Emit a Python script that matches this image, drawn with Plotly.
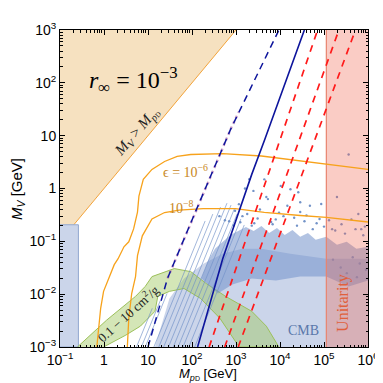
import plotly.graph_objects as go

# ---------------- data ----------------
x_tick_vals = [1e-1, 1, 10, 1e2, 1e3, 1e4, 1e5, 1e6]
x_tick_text = ["10<sup>−1</sup>", "1", "10", "10<sup>2</sup>", "10<sup>3</sup>",
               "10<sup>4</sup>", "10<sup>5</sup>", "10<sup>6</sup>"]
y_tick_vals = [1e-3, 1e-2, 1e-1, 1, 10, 1e2, 1e3]
y_tick_text = ["10<sup>−3</sup>", "10<sup>−2</sup>", "10<sup>−1</sup>", "1", "10",
               "10<sup>2</sup>", "10<sup>3</sup>"]

# M_V > M_pD triangle
tri_x = [0.1, 1000, 0.1]
tri_y = [0.1, 1000, 1000]
diag_x = [0.1, 1000]
diag_y = [0.1, 1000]

# CMB left block
cmb_left_x = [0.1, 0.262, 0.262, 0.1]
cmb_left_y = [1e-3, 1e-3, 0.206, 0.206]

# CMB main region
cmb_x = [14.4, 30.7, 65.8, 181, 499, 1374, 3780, 17300, 113000, 1e6, 1e6]
cmb_y = [1e-3, 0.0083, 0.0198, 0.0378, 0.0582, 0.0723, 0.0723, 0.0582, 0.0469, 0.0469, 1e-3]

# dense scan-point cloud outline
cloud_x = [164, 233, 333, 499, 748, 1122, 1683, 2524, 3785, 5690, 8530, 12790,
           19190, 28770, 43150, 64700, 113000, 197000, 328000, 544000, 1e6,
           1e6, 363000, 113000, 28770, 8110, 2280, 828, 387]
cloud_y = [0.0198, 0.0431, 0.0723, 0.098, 0.1325, 0.157, 0.187, 0.157, 0.195,
           0.1445, 0.179, 0.1325, 0.164, 0.1215, 0.1445, 0.1067, 0.1215, 0.0859, 0.098,
           0.0723, 0.0788,
           0.0181, 0.0140, 0.0215, 0.0215, 0.0181, 0.0198, 0.0152, 0.0103]

# sparse scan points
sparse_x = [2490, 4890, 17300, 26000, 47800, 86400, 197000, 363000, 603000, 702000,
            153000, 28800, 4400, 10400, 1165, 5320, 14700, 28800, 79200, 6300, 2280,
            24300, 55600, 2000, 1600, 1400, 3100, 8000, 12000, 36000, 68000, 130000,
            250000, 420000, 850000, 950, 1800, 3500, 9500, 21000, 40000, 100000,
            180000, 300000, 520000, 780000, 700, 2600, 6800, 420, 560, 880, 1250,
            160000, 240000, 450000, 650000, 900000, 330000, 560000]
sparse_y = [0.90, 0.69, 0.97, 0.85, 0.47, 0.51, 0.69, 4.4, 0.33, 0.17,
            0.17, 0.36, 1.49, 1.12, 0.506, 0.63, 0.47, 0.55, 0.265, 0.232, 0.198,
            0.198, 0.17, 1.5, 1.0, 0.30, 0.27, 0.26, 0.30, 0.24, 0.22, 0.25,
            0.21, 0.26, 0.19, 0.38, 0.33, 0.40, 0.35, 0.28, 0.31, 0.19,
            0.16, 0.14, 0.17, 0.13, 0.24, 0.22, 0.21, 0.30, 0.25, 0.20, 0.23,
            0.045, 0.032, 0.050, 0.038, 0.029, 0.025, 0.021]

# thin scan streaks (bottom mass, top mass, top M_V)
streak_x_bottom = [5.48, 7.06, 8.65, 13.6, 17.6, 22.7, 29.2, 37.6, 48.4, 62.5, 84.7, 115]
streak_x_top = [12.5, 19.1, 27.1, 199, 297, 445, 624, 771, 912, 1057, 1291, 1542]
streak_y_top = [0.0054, 0.0076, 0.0103, 0.243, 0.328, 0.445, 0.528, 0.485, 0.407, 0.328, 0.265, 0.204]

# self-interaction band 0.1 - 10 cm^2/g
green_upper_x = [0.249, 1.14, 5.21, 8.65, 12.3, 23.8, 39.5, 93.7, 211, 581, 2280, 4890, 9440]
green_upper_y = [1e-3, 0.00321, 0.00908, 0.0140, 0.0215, 0.0267, 0.0305, 0.0267, 0.0159,
                 0.00908, 0.00474, 0.00248, 1e-3]
green_lower_x = [0.978, 3.14, 6.71, 14.4, 16.7, 30.7, 65.8, 156, 429, 1180]
green_lower_y = [1e-3, 0.00168, 0.00248, 0.00474, 0.00908, 0.0113, 0.0128, 0.00832, 0.00351, 1e-3]

# epsilon contours
eps6_x = [0.686, 0.84, 0.978, 1.395, 1.71, 2.09, 2.84, 3.66, 4.71, 5.77, 6.22, 7.82, 12.3,
          23.8, 46, 93.7, 499, 3780, 17300, 113000, 1e6]
eps6_y = [1e-3, 0.0054, 0.0113, 0.0245, 0.0362, 0.0469, 0.0788, 0.098, 0.172, 0.358, 0.715,
          1.49, 2.30, 3.25, 4.04, 4.40, 4.59, 4.12, 3.54, 2.85, 2.30]
eps8_x = [3.39, 3.66, 4.26, 5.21, 5.77, 7.43, 12.3, 23.8, 50.9, 181, 964, 4400, 28800, 113000, 1e6]
eps8_y = [1e-3, 0.0035, 0.0103, 0.0215, 0.0535, 0.127, 0.265, 0.351, 0.391, 0.417, 0.417,
          0.353, 0.308, 0.285, 0.232]

# navy lines
navy_dash_x = [10, 27.7, 127, 748, 9450]
navy_dash_y = [1e-3, 0.0198, 0.407, 13.0, 1000]
purple_x = [27.7, 127, 748, 1150]
purple_y = [0.0198, 0.407, 13.0, 28]
navy_solid_x = [134, 499, 2280, 4480, 35800]
navy_solid_y = [1e-3, 0.0469, 1.85, 8.4, 1000]

# red dashed lines (bottom mass, top mass)
red_x_bottom = [245, 552, 1122]
red_x_top = [71600, 218000, 518000]

# unitarity region
unit_x = [1.13e5, 1e6, 1e6, 1.13e5]
unit_y = [1e-3, 1e-3, 1e3, 1e3]

# ---------------- figure ----------------
fig = go.Figure()

def poly(x, y, fill, line_color=None, width=0):
    fig.add_trace(go.Scatter(x=x, y=y, mode="lines", fill="toself", fillcolor=fill,
                             line=dict(color=line_color or "rgba(0,0,0,0)", width=width),
                             hoverinfo="skip", showlegend=False))

def line(x, y, color, width, dash="solid", opacity=1.0):
    fig.add_trace(go.Scatter(x=x, y=y, mode="lines", opacity=opacity,
                             line=dict(color=color, width=width, dash=dash),
                             hoverinfo="skip", showlegend=False))

poly(tri_x, tri_y, "#f6e1c0")
line(diag_x, diag_y, "#f2a33a", 1)
poly(cmb_x, cmb_y, "#cbd5ea")
poly(cmb_left_x, cmb_left_y, "#cbd5ea", "#93a8cf", 1)

green_x = green_upper_x + green_lower_x[::-1]
green_y = green_upper_y + green_lower_y[::-1]
poly(green_x, green_y, "rgba(160,200,95,0.45)", "#9cc05a", 1)

for xb, xt, yt in zip(streak_x_bottom, streak_x_top, streak_y_top):
    line([xb, xt], [1e-3, yt], "#6f8fc8", 0.8, opacity=0.8)

poly(cloud_x, cloud_y, "rgba(115,145,202,0.55)")
fig.add_trace(go.Scatter(x=sparse_x, y=sparse_y, mode="markers",
                         marker=dict(size=2.4, color="#7393c8"),
                         hoverinfo="skip", showlegend=False))

poly(unit_x, unit_y, "rgba(240,100,80,0.33)")
line([unit_x[0], unit_x[3]], [unit_y[0], unit_y[3]], "#e8846e", 1.2)

line(eps6_x, eps6_y, "#f7a21b", 1.3)
line(eps8_x, eps8_y, "#f7a21b", 1.3)

line(purple_x, purple_y, "rgba(185,105,170,0.55)", 2.5, dash="dot")
line(navy_dash_x, navy_dash_y, "#0d149c", 1.5, dash="7px,5px")
line(navy_solid_x, navy_solid_y, "#0d149c", 1.6)

for xb, xt in zip(red_x_bottom, red_x_top):
    line([xb, xt], [1e-3, 1e3], "#ff1a1a", 1.7, dash="7px,6px")

axis_common = dict(type="log", showgrid=False, zeroline=False, showline=True,
                   linecolor="black", linewidth=1, mirror="allticks",
                   ticks="inside", ticklen=5, tickcolor="black", tickwidth=1,
                   tickmode="array",
                   tickfont=dict(family="Liberation Sans", size=14, color="black"),
                   minor=dict(ticks="inside", ticklen=2.5, tickcolor="black",
                              dtick="D1", showgrid=False))

fig.update_xaxes(range=[-1, 6], tickvals=x_tick_vals, ticktext=x_tick_text, **axis_common)
fig.update_yaxes(range=[-3, 3], tickvals=y_tick_vals, ticktext=y_tick_text, **axis_common)

serif = "Liberation Serif"
pd_sub = "<sub><i>p</i><span style='font-size:7px'>D</span></sub>"
ann = [
    dict(text="<i>r</i><sub>∞</sub> = 10<sup>−3</sup>", x=0.24, y=0.842,
         font=dict(family=serif, size=24, color="black")),
    dict(text="<i>M<sub>V</sub></i> > <i>M</i>" + pd_sub, x=0.25, y=0.677,
         textangle=-49.5, font=dict(family=serif, size=15, color="#222")),
    dict(text="ϵ = 10<sup>−6</sup>", x=0.409, y=0.554,
         font=dict(family=serif, size=14, color="#c8871c")),
    dict(text="10<sup>−8</sup>", x=0.393, y=0.441,
         font=dict(family=serif, size=14, color="#c8871c")),
    dict(text="0.1 − 10 cm<sup>2</sup>/g", x=0.22, y=0.108, textangle=-42,
         font=dict(family=serif, size=13, color="#222")),
    dict(text="CMB", x=0.789, y=0.053,
         font=dict(family=serif, size=14, color="#5a78aa")),
    dict(text="Unitarity", x=0.921, y=0.138, textangle=-90,
         font=dict(family=serif, size=16, color="#e0603c")),
    dict(text="<i>M</i>" + pd_sub + " [GeV]", x=0.481, y=-0.058,
         yanchor="top", borderpad=0,
         font=dict(family="Liberation Sans", size=13, color="black")),
    dict(text="<i>M<sub>V</sub></i> [GeV]", x=-0.14, y=0.498, textangle=-90,
         font=dict(family="Liberation Sans", size=15, color="black")),
]
for a in ann:
    a.setdefault("yanchor", "middle")
    a.update(xref="paper", yref="paper", showarrow=False, xanchor="center")
fig.update_layout(annotations=ann)

fig.update_layout(width=383, height=383, margin=dict(l=52, r=13, t=20, b=44),
                  paper_bgcolor="white", plot_bgcolor="white")

fig.write_html("out.html")
